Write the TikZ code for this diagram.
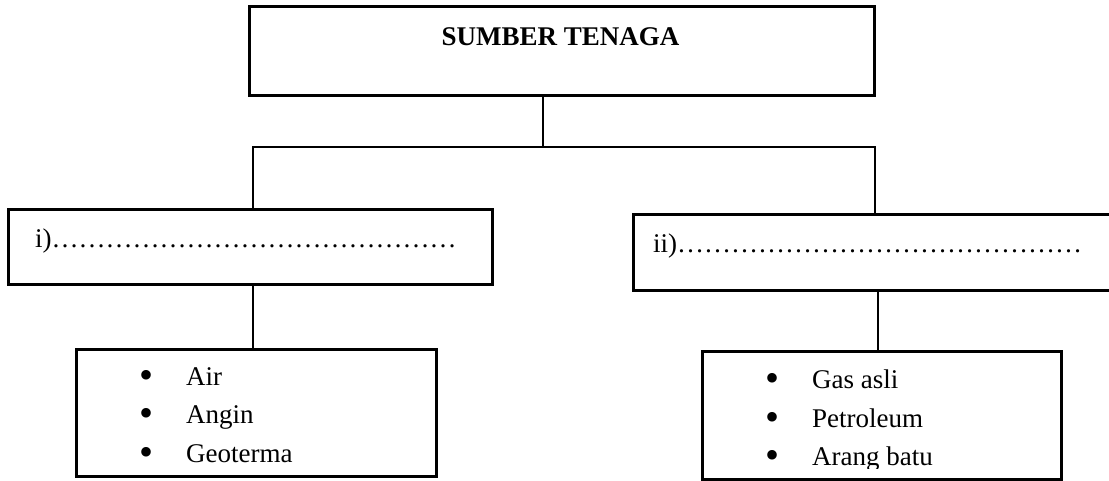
\documentclass[tikz,border=0pt]{standalone}
\usepackage{fontspec}
\setmainfont{Liberation Serif}
\ExplSyntaxOn
\cs_new:Npn \myrepeat #1#2 { \prg_replicate:nn {#1} {#2} }
\ExplSyntaxOff
\begin{document}
\begin{tikzpicture}[x=1pt,y=-1pt,
  box/.style={draw,line width=2.6pt,inner sep=0pt,anchor=north west},
  link/.style={line width=1.4pt},
  txt/.style={font=\fontsize{27}{27}\selectfont,inner sep=0pt,anchor=base west},
  bul/.style={font=\fontsize{40}{40}\selectfont,inner sep=0pt,anchor=center}]
\clip (0,0) rectangle (1109,480);
% boxes
\node[box,minimum width=625pt,minimum height=89pt] (top) at (248,5) {};
\node[box,minimum width=484pt,minimum height=75pt] (boxi) at (7,208) {};
\node[box,minimum width=500pt,minimum height=76pt] (boxii) at (632,213) {};
\node[box,minimum width=360pt,minimum height=127pt] (listl) at (75,348) {};
\node[box,minimum width=359pt,minimum height=128pt] (listr) at (701,350) {};
% texts
\node[font=\bfseries\fontsize{27}{27}\selectfont,inner sep=0pt,anchor=base] (title) at (560.5,45) {SUMBER TENAGA};
\node[txt] (ti) at (35,247) {i)\myrepeat{15}{…}};
\node[txt] (tii) at (653,252) {ii)\myrepeat{15}{…}};
\node[bul] (b1) at (147,379) {•};
\node[txt] (l1) at (186,385) {Air};
\node[bul] (b2) at (147,417) {•};
\node[txt] (l2) at (186,423) {Angin};
\node[bul] (b3) at (147,456) {•};
\node[txt] (l3) at (186,462) {Geoterma};
\node[bul] (c1) at (772,382) {•};
\node[txt] (r1) at (812,388) {Gas asli};
\node[bul] (c2) at (772,421) {•};
\node[txt] (r2) at (812,427) {Petroleum};
\begin{scope}
\clip (701,350) rectangle (1060,468);
\node[bul] (c3) at (772,459) {•};
\node[txt] (r3) at (812,465) {Arang batu};
\end{scope}
% connectors
\coordinate (j) at (543,147);
\coordinate (jl) at (253,147);
\coordinate (jr) at (875,147);
\coordinate (cl) at (253,0);
\coordinate (cr) at (878,0);
\draw[link] (top.south -| j) -- (j);
\draw[link] (boxi.north -| jl) -- (jl) -- (jr) -- (boxii.north -| jr);
\draw[link] (boxi.south -| cl) -- (listl.north -| cl);
\draw[link] (boxii.south -| cr) -- (listr.north -| cr);
\end{tikzpicture}
\end{document}
